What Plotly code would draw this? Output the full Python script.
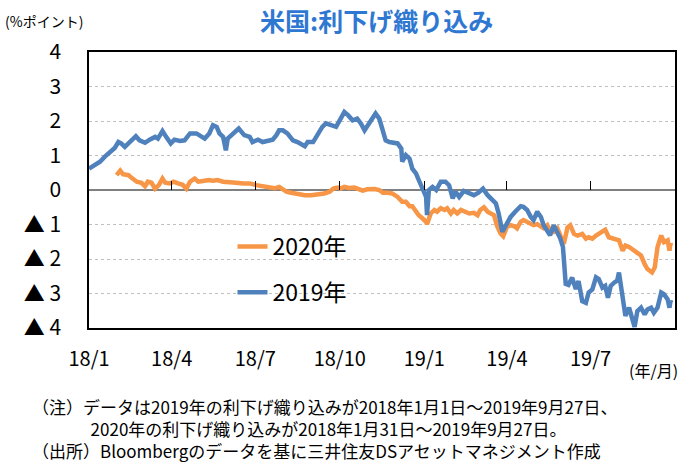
import plotly.graph_objects as go

# ---------------- data ----------------
series_2019_name = "2019年"
series_2019_dates = [
    '2018-01-01','2018-01-08','2018-01-13','2018-01-18','2018-01-24','2018-01-29','2018-02-02','2018-02-05','2018-02-09','2018-02-13',
    '2018-02-16','2018-02-21','2018-02-25','2018-03-03','2018-03-08','2018-03-14','2018-03-17','2018-03-22','2018-03-26','2018-03-31',
    '2018-04-04','2018-04-10','2018-04-15','2018-04-21','2018-04-28','2018-05-07','2018-05-12','2018-05-16','2018-05-20','2018-05-23',
    '2018-05-27','2018-05-30','2018-06-01','2018-06-07','2018-06-13','2018-06-19','2018-06-25','2018-06-28',
    '2018-07-04','2018-07-09','2018-07-15','2018-07-20','2018-07-24','2018-07-27','2018-07-31','2018-08-05','2018-08-11','2018-08-16',
    '2018-08-24','2018-08-27','2018-09-02','2018-09-07','2018-09-12','2018-09-16','2018-09-22','2018-09-27',
    '2018-10-02','2018-10-06','2018-10-10','2018-10-15','2018-10-20','2018-10-24','2018-10-28','2018-11-01','2018-11-06','2018-11-09',
    '2018-11-13','2018-11-17','2018-11-20','2018-11-24','2018-11-28','2018-12-03','2018-12-07','2018-12-08','2018-12-12','2018-12-16',
    '2018-12-19','2018-12-23','2018-12-26','2018-12-30',
    '2019-01-03','2019-01-04','2019-01-06','2019-01-10','2019-01-14','2019-01-19','2019-01-24','2019-01-28','2019-02-01','2019-02-04',
    '2019-02-08','2019-02-13','2019-02-19','2019-02-24','2019-03-01','2019-03-06','2019-03-11','2019-03-16','2019-03-20','2019-03-23',
    '2019-03-27','2019-03-30',
    '2019-04-05','2019-04-10','2019-04-16','2019-04-19','2019-04-23','2019-04-27','2019-04-30','2019-05-04','2019-05-08','2019-05-11',
    '2019-05-15','2019-05-18','2019-05-22','2019-05-26','2019-05-29','2019-06-01','2019-06-03','2019-06-04','2019-06-07','2019-06-11',
    '2019-06-15','2019-06-18','2019-06-22','2019-06-26','2019-06-29',
    '2019-07-03','2019-07-07','2019-07-10','2019-07-14','2019-07-17','2019-07-20','2019-07-23','2019-07-27','2019-07-30','2019-08-01',
    '2019-08-04','2019-08-06','2019-08-08','2019-08-12','2019-08-16','2019-08-18','2019-08-21','2019-08-25','2019-08-29','2019-09-01',
    '2019-09-05','2019-09-08','2019-09-12','2019-09-16','2019-09-19','2019-09-23','2019-09-25','2019-09-26','2019-09-27',
]
series_2019_values = [
    0.62, 0.72, 0.82, 0.96, 1.10, 1.22, 1.39, 1.35, 1.25, 1.35,
    1.44, 1.56, 1.44, 1.37, 1.46, 1.54, 1.49, 1.71, 1.54, 1.35,
    1.46, 1.42, 1.44, 1.64, 1.64, 1.49, 1.64, 1.88, 1.83, 1.64,
    1.54, 1.15, 1.49, 1.64, 1.78, 1.59, 1.54, 1.39,
    1.46, 1.39, 1.44, 1.46, 1.59, 1.73, 1.73, 1.64, 1.44, 1.39,
    1.27, 1.39, 1.39, 1.59, 1.83, 1.93, 1.88, 1.83,
    2.07, 2.26, 2.17, 2.02, 2.07, 1.93, 1.73, 1.88, 2.07, 2.22,
    2.07, 1.73, 1.44, 1.39, 1.37, 1.35, 1.20, 0.82, 1.01, 0.91,
    0.62, 0.48, 0.29, 0.00,
    -0.20, -0.73, 0.00, 0.09, 0.00, 0.24, 0.24, 0.14, -0.24, -0.05,
    -0.20, -0.03, -0.10, -0.15, -0.08, 0.04, -0.15, -0.29, -0.39, -0.68,
    -1.21, -1.07,
    -0.78, -0.63, -0.47, -0.49, -0.58, -0.78, -0.87, -0.63, -0.78, -1.02,
    -1.21, -1.31, -1.02, -1.21, -1.40, -1.65, -2.50, -2.72, -2.75, -2.54,
    -2.87, -2.64, -3.22, -3.27, -2.97,
    -2.88, -2.53, -2.58, -2.83, -2.78, -3.12, -2.78, -2.68, -2.63, -2.39,
    -3.01, -3.41, -3.65, -3.41, -3.75, -3.97, -3.51, -3.41, -3.61, -3.46,
    -3.41, -3.56, -3.41, -2.97, -3.02, -3.17, -3.41, -3.22, -3.27,
]

series_2020_name = "2020年"
series_2020_dates = [
    '2018-01-31','2018-02-04','2018-02-07','2018-02-13','2018-02-16','2018-02-22','2018-02-27','2018-03-03','2018-03-06','2018-03-10',
    '2018-03-14','2018-03-18','2018-03-22','2018-03-25','2018-03-30',
    '2018-04-03','2018-04-08','2018-04-13','2018-04-17','2018-04-21','2018-04-26','2018-04-30','2018-05-05','2018-05-11','2018-05-16',
    '2018-05-21','2018-05-27','2018-06-03','2018-06-10','2018-06-18','2018-06-25',
    '2018-07-02','2018-07-09','2018-07-17','2018-07-22','2018-07-27','2018-07-31','2018-08-04','2018-08-09','2018-08-16','2018-08-24',
    '2018-08-31','2018-09-07','2018-09-14','2018-09-20','2018-09-24','2018-09-29',
    '2018-10-02','2018-10-06','2018-10-11','2018-10-17','2018-10-22','2018-10-26','2018-10-31','2018-11-08','2018-11-13','2018-11-17',
    '2018-11-22','2018-11-27','2018-12-03','2018-12-08','2018-12-12','2018-12-16','2018-12-19','2018-12-23','2018-12-26','2018-12-30',
    '2019-01-03','2019-01-04','2019-01-08','2019-01-12','2019-01-15','2019-01-19','2019-01-23','2019-01-26','2019-01-30','2019-02-02',
    '2019-02-06','2019-02-10','2019-02-15','2019-02-19','2019-02-24','2019-02-28','2019-03-03','2019-03-07','2019-03-11','2019-03-14',
    '2019-03-18','2019-03-21','2019-03-25','2019-03-28',
    '2019-04-01','2019-04-05','2019-04-09','2019-04-12','2019-04-16','2019-04-19','2019-04-25','2019-04-30','2019-05-04','2019-05-08',
    '2019-05-11','2019-05-15','2019-05-18','2019-05-22','2019-05-26','2019-05-29','2019-06-02','2019-06-06','2019-06-09','2019-06-13',
    '2019-06-17','2019-06-22','2019-06-26','2019-06-29',
    '2019-07-03','2019-07-07','2019-07-12','2019-07-17','2019-07-21','2019-07-27','2019-08-01','2019-08-05','2019-08-08','2019-08-12',
    '2019-08-16','2019-08-19','2019-08-25','2019-08-29','2019-09-01','2019-09-06','2019-09-09','2019-09-12','2019-09-16','2019-09-19',
    '2019-09-23','2019-09-25','2019-09-26','2019-09-27',
]
series_2020_values = [
    0.43, 0.56, 0.46, 0.43, 0.36, 0.24, 0.21, 0.11, 0.24, 0.21,
    0.04, 0.14, 0.33, 0.21, 0.19,
    0.24, 0.19, 0.15, 0.04, 0.24, 0.33, 0.24, 0.26, 0.29, 0.27,
    0.29, 0.24, 0.24, 0.21, 0.19, 0.19,
    0.14, 0.11, 0.09, 0.05, 0.09, 0.00, -0.05, -0.08, -0.12, -0.15,
    -0.15, -0.13, -0.10, -0.05, 0.04, 0.07,
    0.04, 0.09, 0.06, 0.07, 0.02, -0.02, 0.02, 0.03, 0.00, -0.08,
    -0.08, -0.10, -0.20, -0.34, -0.34, -0.47, -0.47, -0.63, -0.73, -0.82,
    -0.92, -0.99, -0.68, -0.58, -0.63, -0.53, -0.58, -0.53, -0.68, -0.58,
    -0.68, -0.58, -0.63, -0.68, -0.66, -0.73, -0.58, -0.50, -0.63, -0.66,
    -0.73, -1.02, -1.26, -1.34,
    -1.07, -1.02, -1.05, -1.11, -0.92, -0.87, -0.95, -1.02, -0.99, -1.07,
    -1.11, -1.02, -1.16, -1.21, -1.11, -1.31, -1.56, -1.08, -1.02, -1.27,
    -1.32, -1.27, -1.41, -1.37,
    -1.41, -1.32, -1.22, -1.15, -1.37, -1.41, -1.46, -1.76, -1.61, -1.65,
    -1.74, -1.80, -1.90, -2.15, -2.29, -2.39, -2.24, -1.65, -1.32, -1.51,
    -1.46, -1.76, -1.56, -1.61,
]

x_tick_dates = ['2018-01-01', '2018-04-01', '2018-07-01', '2018-10-01', '2019-01-01', '2019-04-01', '2019-07-01']
x_tick_labels = ['18/1', '18/4', '18/7', '18/10', '19/1', '19/4', '19/7']
x_range = ['2018-01-01', '2019-10-01']

y_tick_values = [4, 3, 2, 1, 0, -1, -2, -3, -4]
y_tick_labels = ['4', '3', '2', '1', '0', '▲ 1', '▲ 2', '▲ 3', '▲ 4']

title_text = "米国:利下げ織り込み"
unit_text = "(%ポイント)"
x_unit_text = "(年/月)"
note_lines = [
    "（注）データは2019年の利下げ織り込みが2018年1月1日～2019年9月27日、",
    "2020年の利下げ織り込みが2018年1月31日～2019年9月27日。",
    "（出所）Bloombergのデータを基に三井住友DSアセットマネジメント作成",
]

# ---------------- style ----------------
W, H = 683, 462
L, R, T, B = 89, 677, 52, 328
FONT = "Noto Sans CJK JP"
BLUE = "#4F81BD"
ORANGE = "#F79646"
TITLE_BLUE = "#2F78D2"
NOTE_INDENT = "\u3000\u3000\u3000\u00a0\u00a0"


def fx(p):
    return (p - L) / (R - L)


def fy(p):
    return (B - p) / (B - T)


fig = go.Figure()
fig.add_trace(go.Scatter(
    x=series_2020_dates, y=series_2020_values, name=series_2020_name, mode="lines",
    line=dict(color=ORANGE, width=4.5), legendgroup="a",
))
fig.add_trace(go.Scatter(
    x=series_2019_dates, y=series_2019_values, name=series_2019_name, mode="lines",
    line=dict(color=BLUE, width=4.5), legendgroup="b",
))
# empty trace so the tick-mark axis at the zero line is drawn
fig.add_trace(go.Scatter(x=[], y=[], xaxis="x2", showlegend=False, hoverinfo="skip"))

fig.update_layout(
    width=W, height=H, autosize=False,
    margin=dict(l=L, r=W - R, t=T, b=H - B, pad=0),
    paper_bgcolor="white", plot_bgcolor="white",
    font=dict(family=FONT, color="#000000"),
    showlegend=True,
    legend=dict(
        x=fx(233), y=fy(225), xanchor="left", yanchor="top",
        font=dict(family=FONT, size=23, color="#000000"),
        bgcolor="rgba(0,0,0,0)", traceorder="grouped", tracegroupgap=13,
        itemwidth=30,
    ),
    xaxis=dict(
        type="date", range=x_range, tickmode="array", tickvals=x_tick_dates, ticktext=x_tick_labels,
        showgrid=False, zeroline=False,
        showline=True, mirror=True, linecolor="#000000", linewidth=1.5,
        ticks="outside", ticklen=12, tickcolor="rgba(0,0,0,0)",
        tickfont=dict(family=FONT, size=20, color="#000000"),
    ),
    xaxis2=dict(
        type="date", range=x_range, overlaying="x", anchor="free", position=0.5,
        tickmode="array", tickvals=x_tick_dates, showticklabels=False,
        ticks="inside", ticklen=9, tickwidth=1.2, tickcolor="#000000",
        showgrid=False, showline=False, zeroline=False,
    ),
    yaxis=dict(
        range=[-4, 4], tickmode="array", tickvals=y_tick_values, ticktext=y_tick_labels,
        showgrid=True, gridcolor="#BFBFBF", gridwidth=1, griddash="dot",
        zeroline=True, zerolinecolor="#808080", zerolinewidth=1.5,
        showline=True, mirror=True, linecolor="#000000", linewidth=1.5,
        ticks="outside", ticklen=22, tickcolor="rgba(0,0,0,0)",
        tickfont=dict(family=FONT, size=21, color="#000000"),
    ),
)

note_text = note_lines[0] + "<br>" + NOTE_INDENT + note_lines[1] + "<br>" + note_lines[2]

annotations = [
    dict(text=f"<b>{title_text}</b>", x=fx(377), y=fy(20), xanchor="center", yanchor="middle",
         font=dict(family=FONT, size=25, color=TITLE_BLUE)),
    dict(text=unit_text, x=fx(3), y=fy(21), xanchor="left", yanchor="middle",
         font=dict(family=FONT, size=14, color="#000000")),
    dict(text=x_unit_text, x=fx(682), y=fy(370), xanchor="right", yanchor="middle",
         font=dict(family=FONT, size=16, color="#000000")),
    dict(text=note_text, x=fx(30), y=fy(428), xanchor="left", yanchor="middle", align="left",
         font=dict(family=FONT, size=17, color="#000000")),
]
for a in annotations:
    a.update(xref="paper", yref="paper", showarrow=False)
fig.update_layout(annotations=annotations)

fig.write_html("out.html", config={"displayModeBar": False},
               post_script="document.body.style.margin='0px';")
